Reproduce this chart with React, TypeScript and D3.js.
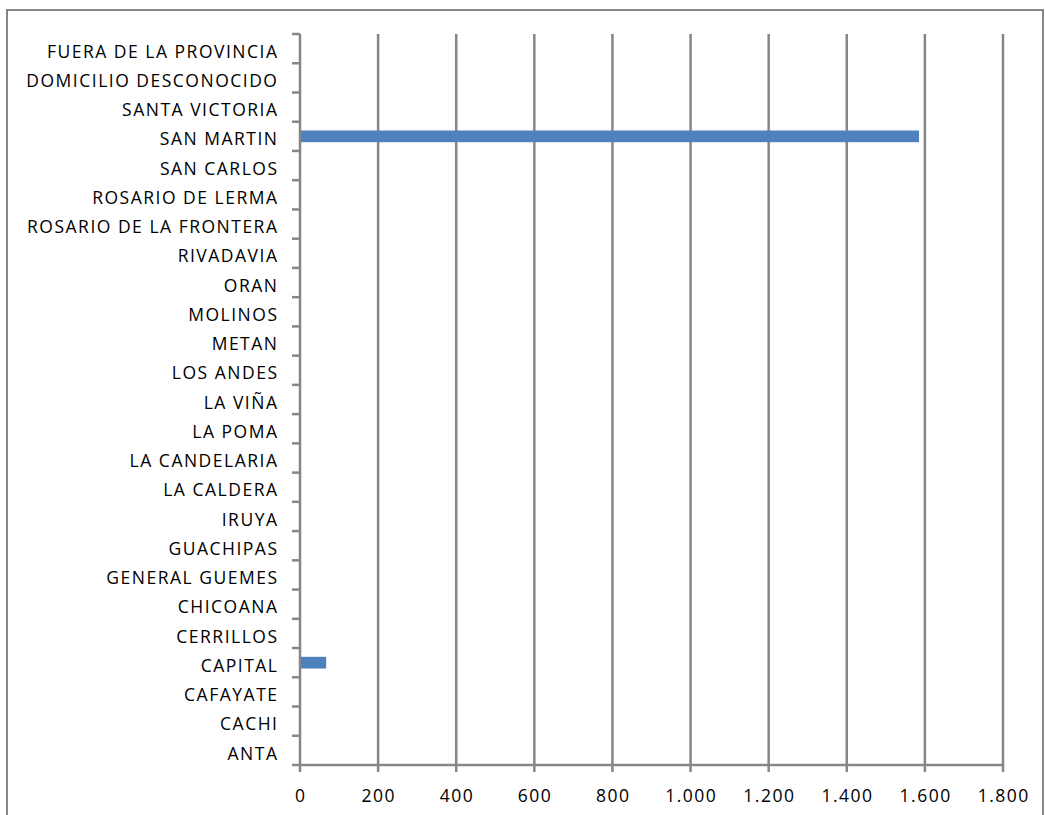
import React from "react";
import * as d3 from "d3";

const categories = [
  "ANTA", "CACHI", "CAFAYATE", "CAPITAL", "CERRILLOS", "CHICOANA", "GENERAL GUEMES",
  "GUACHIPAS", "IRUYA", "LA CALDERA", "LA CANDELARIA", "LA POMA", "LA VIÑA", "LOS ANDES",
  "METAN", "MOLINOS", "ORAN", "RIVADAVIA", "ROSARIO DE LA FRONTERA", "ROSARIO DE LERMA",
  "SAN CARLOS", "SAN MARTIN", "SANTA VICTORIA", "DOMICILIO DESCONOCIDO", "FUERA DE LA PROVINCIA",
];
const values = [0, 0, 0, 67, 0, 0, 0, 0, 0, 0, 0, 0, 0, 0, 0, 0, 0, 0, 0, 0, 0, 1585, 0, 0, 0];
const xTicks = [0, 200, 400, 600, 800, 1000, 1200, 1400, 1600, 1800];

export default function App() {
  const W = 1045, H = 815;
  const left = 300, right = 1003, top = 34, bottom = 765;
  const x = d3.scaleLinear().domain([0, 1800]).range([left, right]);
  const y = d3.scaleBand().domain(categories.slice().reverse()).range([top, bottom]);
  const bh = y.bandwidth() * 0.4;
  const fmt = (v: number) => d3.format(",")(v).replace(/,/g, ".");
  const grid = "#868686";
  const font = "'Open Sans', 'Liberation Sans', sans-serif";
  return (
    <svg width={W} height={H} style={{ position: "absolute", left: 0, top: 0 }}>
      <rect x={0} y={0} width={W} height={H} fill="#fff" />
      <rect x={7} y={10} width={1036} height={820} fill="none" stroke={grid} strokeWidth={2} />
      {xTicks.map((t) => (
        <line key={t} x1={x(t)} x2={x(t)} y1={top} y2={bottom + 7} stroke={grid} strokeWidth={2.5} />
      ))}
      <line x1={left - 8} x2={x(1800)} y1={bottom} y2={bottom} stroke={grid} strokeWidth={2.5} />
      {categories.map((c, i) => (
        <line key={"t" + i} x1={left - 8} x2={left} y1={y(c)!} y2={y(c)!} stroke={grid} strokeWidth={2.5} />
      ))}
      {categories.map((c, i) =>
        values[i] > 0 ? (
          <rect key={"b" + i} x={x(0) + 1} y={y(c)! + (y.bandwidth() - bh) / 2} width={x(values[i]) - x(0) - 1} height={bh} fill="#4f81bd" />
        ) : null
      )}
      {categories.map((c) => (
        <text key={"l" + c} x={278.5} y={y(c)! + y.bandwidth() / 2 + 3} dy="0.35em" textAnchor="end"
          fontFamily={font} fontSize={17.5} letterSpacing={1.5} fill="#000">
          {c}
        </text>
      ))}
      {xTicks.map((t) => (
        <text key={"x" + t} x={x(t) + 0.75} y={796} dy="0.35em" textAnchor="middle"
          fontFamily={font} fontSize={17.5} letterSpacing={1.5} fill="#000">
          {fmt(t)}
        </text>
      ))}
    </svg>
  );
}
